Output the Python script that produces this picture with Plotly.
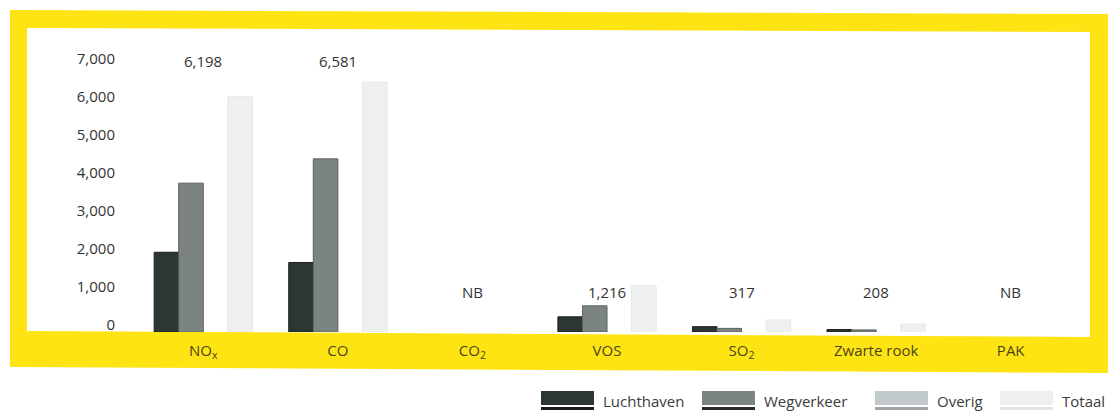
import plotly.graph_objects as go

# Emissions per pollutant (tonnes per year)
categories = ["NO<sub>x</sub>", "CO", "CO<sub>2</sub>", "VOS", "SO<sub>2</sub>", "Zwarte rook", "PAK"]
series_names = ["Luchthaven", "Wegverkeer", "Overig", "Totaal"]
luchthaven = [2100, 1830, None, 400, 140, 65, None]
wegverkeer = [3920, 4560, None, 690, 95, 55, None]
overig = [None, None, None, None, None, None, None]
totaal = [6198, 6581, None, 1216, 317, 208, None]
y_ticks = [0, 1000, 2000, 3000, 4000, 5000, 6000, 7000]

# Styling
bar_colors = ["#2c3633", "#7c8482", "#c3cacc", "#eef0f0"]
bar_lines = ["#1a1f1d", "#5c6261", "#a9b1b3", "#e6e8e8"]
yellow = "#ffe414"
text_color = "#333333"
cat_color = "#4a4418"
font_family = "Open Sans, Noto Sans, sans-serif"

W, H = 1110, 414
PL, PR, PT, PB_M = 136, 32, 51, 82
PW = W - PL - PR
PH = H - PT - PB_M
PLOT_BOTTOM = H - PB_M
Y_MAX = 7400


def px_x(p):
    return (p - PL) / PW


def px_y(p):
    return (PLOT_BOTTOM - p) / PH


def poly(points):
    return "M " + " L ".join(f"{px_x(x):.5f},{px_y(y):.5f}" for x, y in points) + " Z"


fig = go.Figure()
for name, vals, col, lc in zip(series_names, [luchthaven, wegverkeer, overig, totaal], bar_colors, bar_lines):
    fig.add_trace(go.Bar(
        x=categories, y=vals, name=name,
        marker=dict(color=col, line=dict(color=lc, width=1)),
        showlegend=False, hoverinfo="skip",
    ))

# Yellow frame around the chart (slightly skewed, as printed)
shapes = [
    dict(type="path", xref="paper", yref="paper", layer="below",
         path=poly([(10, 10), (1108, 14), (1108, 373), (10, 367)]),
         fillcolor=yellow, line=dict(width=0)),
    dict(type="path", xref="paper", yref="paper", layer="below",
         path=poly([(27, 28), (1090, 32), (1090, 337), (27, 331)]),
         fillcolor="white", line=dict(width=0)),
]

annotations = []
# Total value labels above each group
for cat, tot in zip(categories, totaal):
    label = "NB" if tot is None else f"{tot:,}"
    y_lab = 7130 if (tot is not None and tot >= 5000) else 1050
    annotations.append(dict(x=cat, y=y_lab, xref="x", yref="y", text=label,
                            showarrow=False, yanchor="middle",
                            font=dict(family=font_family, size=15, color=text_color)))

# Legend drawn as wide swatches with an underline
legend_x = [541, 702, 875, 1000]
underline_colors = ["#1c1c1c", "#2a2a2a", "#9da5a8", "#e2e2e2"]
for name, col, ulc, x0 in zip(series_names, bar_colors, underline_colors, legend_x):
    shapes.append(dict(type="rect", xref="paper", yref="paper",
                       x0=px_x(x0), x1=px_x(x0 + 53), y0=px_y(405), y1=px_y(391),
                       fillcolor=col, line=dict(width=0)))
    shapes.append(dict(type="rect", xref="paper", yref="paper",
                       x0=px_x(x0), x1=px_x(x0 + 53), y0=px_y(410), y1=px_y(407),
                       fillcolor=ulc, line=dict(width=0)))
    annotations.append(dict(x=px_x(x0 + 60), y=px_y(401), xref="paper", yref="paper",
                            text=name, showarrow=False, xanchor="left", yanchor="middle",
                            font=dict(family=font_family, size=15, color="#3c3c3c")))

fig.update_layout(
    width=W, height=H,
    margin=dict(l=PL, r=PR, t=PT, b=PB_M),
    paper_bgcolor="white", plot_bgcolor="rgba(0,0,0,0)",
    barmode="group", bargap=0.27, bargroupgap=0,
    shapes=shapes, annotations=annotations,
    font=dict(family=font_family, color=text_color),
    xaxis=dict(showgrid=False, zeroline=False, showline=False, ticks="",
               range=[-0.5, 6.5], ticklabelstandoff=8,
               tickfont=dict(family=font_family, size=15, color=cat_color)),
    yaxis=dict(range=[0, Y_MAX], showgrid=False, zeroline=False, showline=False,
               ticks="", tickvals=y_ticks, tickformat=",d",
               ticklabelstandoff=20, ticklabelshift=-7,
               tickfont=dict(family=font_family, size=15, color=text_color)),
)

fig.write_html("out.html")
